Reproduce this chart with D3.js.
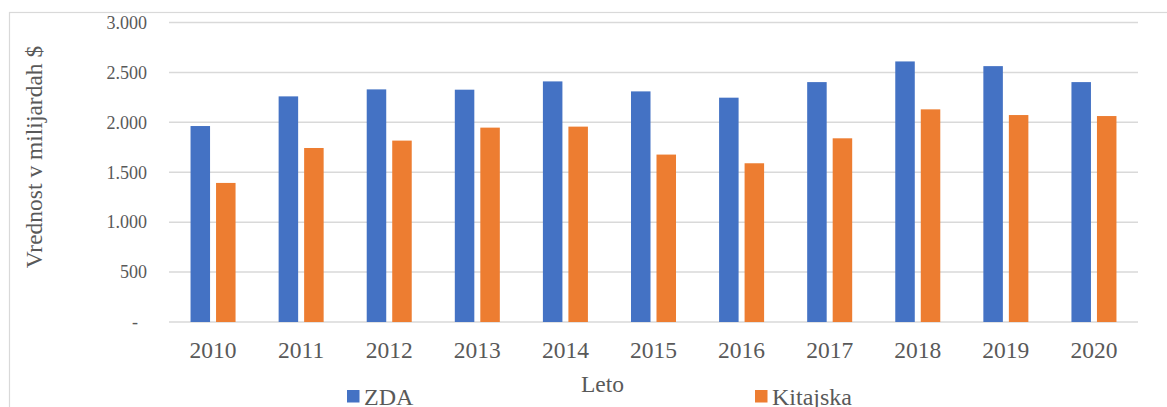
<!DOCTYPE html>
<html>
<head>
<meta charset="utf-8">
<script src="https://cdn.jsdelivr.net/npm/d3@7"></script>
<style>
  html, body { margin: 0; padding: 0; background: #fff; }
  svg { display: block; }
  text { font-family: "Liberation Serif", "Times New Roman", serif; fill: #595959; }
</style>
</head>
<body>
<script>
const years = ["2010","2011","2012","2013","2014","2015","2016","2017","2018","2019","2020"];
const seriesNames = ["ZDA", "Kitajska"];
const zda = [1963, 2260, 2330, 2327, 2410, 2310, 2247, 2403, 2610, 2563, 2403];
const kitajska = [1393, 1743, 1817, 1947, 1957, 1677, 1590, 1840, 2130, 2073, 2063];
const tickValues = [0, 500, 1000, 1500, 2000, 2500, 3000];
const tickLabels = ["-", "500", "1.000", "1.500", "2.000", "2.500", "3.000"];
const colors = ["#4472C4", "#ED7D31"];
const yTitle = "Vrednost v milijardah $";
const xTitle = "Leto";

(function () {
const W = 1167, H = 407;
const svg = d3.select("body").append("svg").attr("width", W).attr("height", H);

// chart border (top and left visible)
svg.append("rect").attr("x", 9.5).attr("y", 12.5).attr("width", 1300).attr("height", 600)
  .attr("fill", "none").attr("stroke", "#d9d9d9").attr("stroke-width", 1.2);

const pLeft = 169, pRight = 1138, pTop = 22.5, pBottom = 322;
const x = d3.scaleBand().domain(years).range([pLeft, pRight]).paddingInner(0.489).paddingOuter(0.2445);
const xs = d3.scaleBand().domain(seriesNames).range([0, x.bandwidth()]).paddingInner(0.235);
const y = d3.scaleLinear().domain([0, 3000]).range([pBottom, pTop]);

// gridlines
svg.append("g").selectAll("line").data(tickValues).join("line")
  .attr("x1", pLeft).attr("x2", pRight)
  .attr("y1", d => y(d)).attr("y2", d => y(d))
  .attr("stroke", "#d9d9d9").attr("stroke-width", 1.5);

// bars
const rows = years.map((yr, i) => ({ year: yr, values: [zda[i], kitajska[i]] }));
const groups = svg.append("g").selectAll("g").data(rows).join("g")
  .attr("transform", d => `translate(${x(d.year)},0)`);
groups.selectAll("rect").data(d => d.values.map((v, j) => ({ name: seriesNames[j], v, j })))
  .join("rect")
  .attr("x", d => xs(d.name))
  .attr("width", xs.bandwidth())
  .attr("y", d => y(d.v))
  .attr("height", d => y(0) - y(d.v))
  .attr("fill", d => colors[d.j]);

// y axis
const yAxis = d3.axisLeft(y).tickValues(tickValues)
  .tickFormat((d, i) => tickLabels[i]).tickSize(0).tickPadding(22);
const gy = svg.append("g").attr("transform", `translate(${pLeft},0)`).call(yAxis);
gy.select(".domain").remove();
gy.selectAll("text").style("font-size", "18px").attr("fill", "#595959")
  .attr("font-family", null)
  .attr("dx", d => d === 0 ? -9 : 0);

// x axis
const xAxis = d3.axisBottom(x).tickSize(0).tickPadding(19.3);
const gx = svg.append("g").attr("transform", `translate(0,${pBottom})`).call(xAxis);
gx.select(".domain").remove();
gx.selectAll("text").style("font-size", "23.5px").attr("fill", "#595959").attr("font-family", null);

// axis titles
svg.append("text").attr("transform", "translate(41.5,157) rotate(-90)")
  .attr("text-anchor", "middle").style("font-size", "23.5px").text(yTitle);
svg.append("text").attr("x", 602.5).attr("y", 391.5)
  .attr("text-anchor", "middle").style("font-size", "23.5px").text(xTitle);

// legend
const legendX = [347, 755];
const lg = svg.append("g").selectAll("g").data(seriesNames).join("g")
  .attr("transform", (d, i) => `translate(${legendX[i]},390)`);
lg.append("rect").attr("width", 12.5).attr("height", 12.5).attr("fill", (d, i) => colors[i]);
lg.append("text").attr("x", 17).attr("y", 15).style("font-size", "24px").text(d => d);
})();
</script>
</body>
</html>
